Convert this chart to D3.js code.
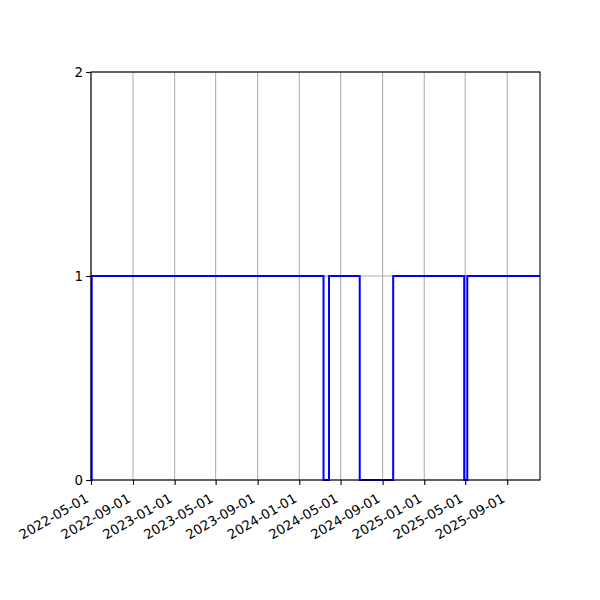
<!DOCTYPE html>
<html>
<head>
<meta charset="utf-8">
<script src="https://cdn.jsdelivr.net/npm/d3@7"></script>
<style>
  body { margin: 0; background: #fff; }
  text { font-family: "DejaVu Sans", sans-serif; }
</style>
</head>
<body>
<div id="chart"></div>
<script>
// step data: value holds from each date until the next one
let dates = ["2022-05-01", "2022-05-03", "2024-03-12", "2024-03-28", "2024-06-26",
             "2024-10-02", "2025-04-28", "2025-05-07", "2025-12-06"];
let values = [0, 1, 0, 1, 0, 1, 0, 1, 1];
let xDomain = ["2022-05-01", "2025-12-06"];
let xTicks = ["2022-05-01", "2022-09-01", "2023-01-01", "2023-05-01", "2023-09-01",
              "2024-01-01", "2024-05-01", "2024-09-01", "2025-01-01", "2025-05-01", "2025-09-01"];
let yTicks = [0, 1, 2];

let margin = {left: 91, right: 60, top: 72, bottom: 120};
let width = 600 - margin.left - margin.right;
let height = 600 - margin.top - margin.bottom;

let parse = d3.utcParse("%Y-%m-%d");
let fmt = d3.utcFormat("%Y-%m-%d");

let svg = d3.select("#chart").append("svg")
    .attr("width", 600)
    .attr("height", 600)
    .append("g")
    .attr("transform", "translate(" + margin.left + "," + margin.top + ")");

let x = d3.scaleUtc().domain(xDomain.map(parse)).range([0, width]);
let y = d3.scaleLinear().domain([0, 2]).range([height, 0]);

// grid
svg.append("g").selectAll("line").data(xTicks).enter().append("line")
    .attr("x1", d => x(parse(d))).attr("x2", d => x(parse(d)))
    .attr("y1", 0).attr("y2", height)
    .attr("stroke", "#b0b0b0").attr("stroke-width", 1.1);
svg.append("g").selectAll("line").data(yTicks).enter().append("line")
    .attr("x1", 0).attr("x2", width)
    .attr("y1", d => y(d)).attr("y2", d => y(d))
    .attr("stroke", "#b0b0b0").attr("stroke-width", 1.1);

// line
let data = dates.map((d, i) => ({date: parse(d), value: values[i]}));
let line = d3.line().x(d => x(d.date)).y(d => y(d.value)).curve(d3.curveStepAfter);
svg.append("path").datum(data)
    .attr("d", line)
    .attr("fill", "none")
    .attr("stroke", "#0000ff")
    .attr("stroke-width", 2);

// frame
svg.append("rect").attr("width", width).attr("height", height)
    .attr("fill", "none").attr("stroke", "#000").attr("stroke-width", 1.1);

// axes
let xAxis = svg.append("g").attr("transform", "translate(0," + height + ")")
    .call(d3.axisBottom(x).tickValues(xTicks.map(parse)).tickFormat(fmt).tickSize(4.9).tickSizeOuter(0));
xAxis.select(".domain").remove();
xAxis.selectAll("text")
    .attr("font-size", 13.3)
    .attr("fill", "#000")
    .style("text-anchor", "end")
    .attr("x", 0).attr("y", 0).attr("dy", 0)
    .attr("transform", "translate(-2,21) rotate(-30)");

let yAxis = svg.append("g")
    .call(d3.axisLeft(y).tickValues(yTicks).tickFormat(d3.format("d")).tickSize(4.9).tickSizeOuter(0));
yAxis.select(".domain").remove();
yAxis.selectAll("text").attr("font-size", 13.3).attr("fill", "#000").attr("x", -8);
svg.selectAll(".tick line").attr("stroke", "#000").attr("stroke-width", 1.1);
</script>
</body>
</html>
